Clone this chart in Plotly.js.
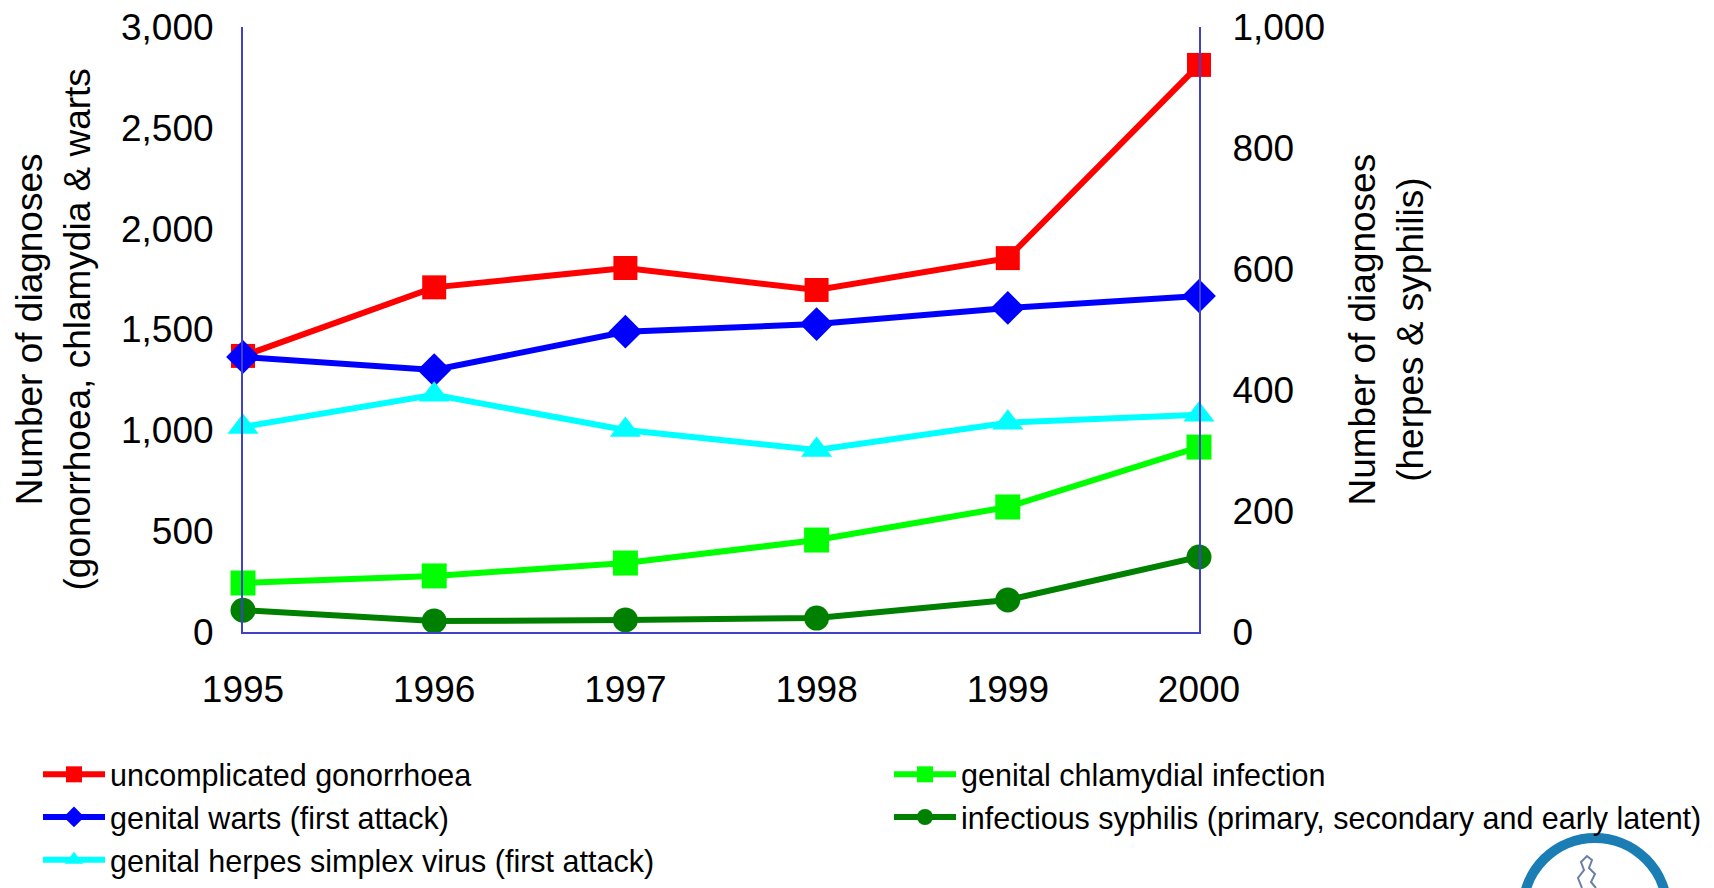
<!DOCTYPE html>
<html>
<head>
<meta charset="utf-8">
<script src="https://cdn.plot.ly/plotly-3.0.1.min.js"></script>
<style>html,body{margin:0;padding:0;background:#fff;}#chart{width:1714px;height:888px;}</style>
</head>
<body>
<div id="chart"></div>
<script>
// ---- data ----
const years = [1995, 1996, 1997, 1998, 1999, 2000];
const gonorrhoea = [1369, 1709, 1805, 1696, 1854, 2812];   // left axis
const chlamydia  = [243, 278, 342, 456, 620, 917];         // left axis
const warts      = [1364, 1299, 1489, 1527, 1607, 1666];   // left axis
const syphilis   = [36, 18, 20, 23, 53, 124];              // right axis
const herpes     = [339, 392, 334, 301, 346, 359];         // right axis

const seriesNames = [
  'uncomplicated gonorrhoea',
  'genital chlamydial infection',
  'genital warts (first attack)',
  'infectious syphilis (primary, secondary and early latent)',
  'genital herpes simplex virus (first attack)'
];
const leftTitle = 'Number of diagnoses<br>(gonorrhoea, chlamydia & warts';
const rightTitle = 'Number of diagnoses<br>(herpes & syphilis)';

// ---- layout geometry ----
const W = 1714, H = 888;
const M = {l: 243, r: 515, t: 27, b: 256, autoexpand: false};
const PW = W - M.l - M.r, PH = H - M.t - M.b;
const px = x => (x - M.l) / PW;
const py = y => (H - M.b - y) / PH;

const FONT = '"Liberation Sans", Arial, sans-serif';
const AXC = '#4040c8';

function tr(name, y, color, symbol, size, yaxis, legend) {
  return {
    type: 'scatter', mode: 'lines+markers', x: years, y: y, name: name,
    yaxis: yaxis, legend: legend, cliponaxis: false,
    line: {color: color, width: 6},
    marker: {color: color, symbol: symbol, size: size}
  };
}

const data = [
  tr(seriesNames[0], gonorrhoea, '#ff0000', 'square', 24, 'y', 'legend'),
  tr(seriesNames[2], warts, '#0000ff', 'diamond', 26, 'y', 'legend'),
  tr(seriesNames[4], herpes, '#00ffff', 'triangle-up', 27, 'y2', 'legend'),
  tr(seriesNames[1], chlamydia, '#00ff00', 'square', 25, 'y', 'legend2'),
  tr(seriesNames[3], syphilis, '#008000', 'circle', 25, 'y2', 'legend2')
];

function pathFrom(pts) {
  return pts.map((p, i) => (i ? 'L' : 'M') + px(p[0]).toFixed(5) + ',' + py(p[1]).toFixed(5)).join(' ');
}

const layout = {
  width: W, height: H,
  margin: M,
  paper_bgcolor: '#ffffff', plot_bgcolor: '#ffffff',
  font: {family: FONT, color: '#000000', size: 37},
  showlegend: true,
  xaxis: {
    type: 'linear', range: [1995, 2000], dtick: 1, tickformat: 'd',
    showgrid: false, zeroline: false,
    showline: true, linecolor: AXC, linewidth: 2,
    ticks: '', ticklabelstandoff: 24,
    tickfont: {size: 37, family: FONT}
  },
  yaxis: {
    range: [0, 3000], dtick: 500, tickformat: ',',
    showgrid: false, zeroline: false,
    showline: true, linecolor: AXC, linewidth: 2,
    ticks: '', ticklabelstandoff: 20,
    tickfont: {size: 37, family: FONT}
  },
  yaxis2: {
    overlaying: 'y', side: 'right',
    range: [0, 1000], dtick: 200, tickformat: ',',
    showgrid: false, zeroline: false,
    showline: true, linecolor: AXC, linewidth: 2,
    ticks: '', ticklabelstandoff: 24,
    tickfont: {size: 37, family: FONT}
  },
  annotations: [
    {text: leftTitle, xref: 'paper', yref: 'paper', x: px(53), y: 0.5,
     xanchor: 'center', yanchor: 'middle', textangle: -90, showarrow: false,
     font: {size: 37, family: FONT, color: '#000000'}},
    {text: rightTitle, xref: 'paper', yref: 'paper', x: px(1386), y: 0.5,
     xanchor: 'center', yanchor: 'middle', textangle: -90, showarrow: false,
     font: {size: 37, family: FONT, color: '#000000'}}
  ],
  legend: {
    x: px(38), xanchor: 'left', y: py(748), yanchor: 'top',
    orientation: 'v', itemwidth: 62,
    font: {size: 30.5, family: FONT}, bgcolor: 'rgba(0,0,0,0)',
    tracegroupgap: 0
  },
  legend2: {
    x: px(889), xanchor: 'left', y: py(748), yanchor: 'top',
    orientation: 'v', itemwidth: 62,
    font: {size: 30.5, family: FONT}, bgcolor: 'rgba(0,0,0,0)',
    tracegroupgap: 0
  },
  shapes: [
    {type: 'circle', xref: 'paper', yref: 'paper',
     x0: px(1523), x1: px(1667), y0: py(838), y1: py(982),
     line: {color: '#1a7db4', width: 10}, layer: 'above'},
    {type: 'path', xref: 'paper', yref: 'paper',
     path: pathFrom([[1582,888],[1578,878],[1584,870],[1581,862],[1587,856],[1592,860],[1589,868],[1595,874],[1591,882],[1596,888]]),
     line: {color: '#6a7fa8', width: 2}, layer: 'above'}
  ]
};

Plotly.newPlot('chart', data, layout, {displayModeBar: false, staticPlot: true});
</script>
</body>
</html>
